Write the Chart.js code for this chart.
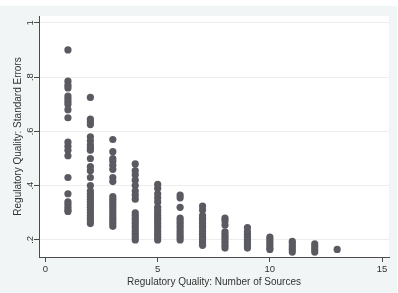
<!DOCTYPE html>
<html>
<head>
<meta charset="utf-8">
<script src="https://cdn.jsdelivr.net/npm/chart.js@4"></script>
<style>
  html, body { margin: 0; padding: 0; background: #ffffff; }
  #wrap { width: 398px; height: 293px; }
</style>
</head>
<body>
<div id="wrap"><canvas id="seChart" width="398" height="293"></canvas></div>
<script>
// Standard errors, one array per number of sources
const se1 = [0.90, 0.785, 0.77, 0.76, 0.73, 0.72, 0.71, 0.70, 0.68, 0.65, 0.56, 0.545, 0.53, 0.51, 0.43, 0.37, 0.34, 0.33, 0.32, 0.31, 0.305];
const se2 = [0.725, 0.645, 0.635, 0.625, 0.58, 0.565, 0.55, 0.54, 0.53, 0.50, 0.47, 0.455, 0.43, 0.40, 0.38, 0.37, 0.36, 0.35, 0.34, 0.33, 0.32, 0.31, 0.30, 0.29, 0.28, 0.27, 0.26];
const se3 = [0.57, 0.525, 0.50, 0.49, 0.475, 0.46, 0.43, 0.415, 0.36, 0.35, 0.34, 0.33, 0.32, 0.31, 0.30, 0.29, 0.28, 0.27, 0.26, 0.25];
const se4 = [0.48, 0.455, 0.44, 0.42, 0.40, 0.38, 0.365, 0.35, 0.30, 0.29, 0.28, 0.27, 0.26, 0.25, 0.24, 0.23, 0.22, 0.21, 0.20];
const se5 = [0.405, 0.39, 0.37, 0.355, 0.34, 0.32, 0.31, 0.30, 0.29, 0.28, 0.27, 0.26, 0.25, 0.24, 0.23, 0.22, 0.21, 0.20];
const se6 = [0.365, 0.355, 0.32, 0.28, 0.27, 0.26, 0.25, 0.24, 0.23, 0.22, 0.21, 0.20];
const se7 = [0.325, 0.31, 0.29, 0.28, 0.27, 0.26, 0.25, 0.24, 0.23, 0.22, 0.21, 0.20, 0.19, 0.18];
const se8 = [0.28, 0.27, 0.255, 0.23, 0.22, 0.21, 0.20, 0.19, 0.18, 0.17];
const se9 = [0.245, 0.23, 0.22, 0.21, 0.20, 0.19, 0.18, 0.17];
const se10 = [0.21, 0.20, 0.19, 0.18, 0.17, 0.165];
const se11 = [0.195, 0.185, 0.175, 0.165, 0.155];
const se12 = [0.185, 0.175, 0.165, 0.155];
const se13 = [0.165];

const sources = [1, 2, 3, 4, 5, 6, 7, 8, 9, 10, 11, 12, 13];
const seBySource = [se1, se2, se3, se4, se5, se6, se7, se8, se9, se10, se11, se12, se13];

const xTicks = [0, 5, 10, 15];
const yTicks = [0.2, 0.4, 0.6, 0.8, 1];
const yTickLabels = [".2", ".4", ".6", ".8", "1"];

const xTitle = "Regulatory Quality: Number of Sources";
const yTitle = "Regulatory Quality: Standard Errors";

let points = [];
sources.forEach((n, i) => {
    seBySource[i].forEach(v => points.push({ x: n, y: v }));
});

const FONT = "'Liberation Sans', Arial, Helvetica, sans-serif";
const AXIS_COLOR = "#4a4a4a";
const TEXT_COLOR = "#333333";

// Stata style backgrounds: grey graph region, white plot region
const backdrop = {
    id: "backdrop",
    beforeDraw(chart) {
        const c = chart.ctx;
        const a = chart.chartArea;
        c.save();
        c.fillStyle = "#ffffff";
        c.fillRect(0, 0, chart.width, chart.height);
        c.fillStyle = "#f2f5f5";
        c.fillRect(0, 6, 397, chart.height - 6);
        c.fillStyle = "#ffffff";
        c.fillRect(a.left, a.top, a.right - a.left, a.bottom - a.top);
        c.restore();
    }
};

// rotated y tick labels, placed with the y scale
const yLabels = {
    id: "yLabels",
    afterDraw(chart) {
        const c = chart.ctx;
        const ys = chart.scales.y;
        c.save();
        c.fillStyle = TEXT_COLOR;
        c.font = "9.5px " + FONT;
        c.textAlign = "center";
        c.textBaseline = "middle";
        yTicks.forEach((v, i) => {
            const py = ys.getPixelForValue(v);
            c.save();
            c.translate(30, py);
            c.rotate(-Math.PI / 2);
            c.fillText(yTickLabels[i], 0, 0);
            c.restore();
        });
        c.restore();
    }
};

const ctx = document.getElementById("seChart").getContext("2d");
new Chart(ctx, {
    type: "scatter",
    data: {
        datasets: [{
            label: "Standard errors",
            data: points,
            pointRadius: 3.6,
            pointBorderWidth: 0,
            pointBackgroundColor: "rgb(90, 90, 98)",
            pointBorderColor: "rgb(90, 90, 98)"
        }]
    },
    options: {
        responsive: false,
        animation: false,
        events: [],
        layout: { padding: { top: 16, right: 9, left: 0, bottom: 0 } },
        plugins: {
            legend: { display: false },
            tooltip: { enabled: false }
        },
        scales: {
            x: {
                type: "linear",
                min: -0.29,
                max: 15.31,
                afterBuildTicks: scale => { scale.ticks = xTicks.map(v => ({ value: v })); },
                afterFit: scale => { scale.height = 36; },
                border: { color: AXIS_COLOR, width: 1 },
                grid: { drawOnChartArea: false, drawTicks: true, tickLength: 5, tickColor: AXIS_COLOR },
                ticks: { color: TEXT_COLOR, font: { family: FONT, size: 9.5 }, padding: 2, maxRotation: 0 },
                title: { display: true, text: xTitle, color: TEXT_COLOR, font: { family: FONT, size: 10 }, padding: { top: 0, bottom: 5 } }
            },
            y: {
                type: "linear",
                min: 0.137,
                max: 1.025,
                afterBuildTicks: scale => { scale.ticks = yTicks.map(v => ({ value: v })); },
                afterFit: scale => { scale.width = 39; },
                border: { color: AXIS_COLOR, width: 1 },
                grid: { color: "#ededed", lineWidth: 1, drawTicks: true, tickLength: 5, tickColor: AXIS_COLOR },
                ticks: { display: false },
                title: { display: true, text: yTitle, color: TEXT_COLOR, font: { family: FONT, size: 10 }, padding: { top: 12, bottom: 0 } }
            }
        }
    },
    plugins: [backdrop, yLabels]
});
</script>
</body>
</html>
